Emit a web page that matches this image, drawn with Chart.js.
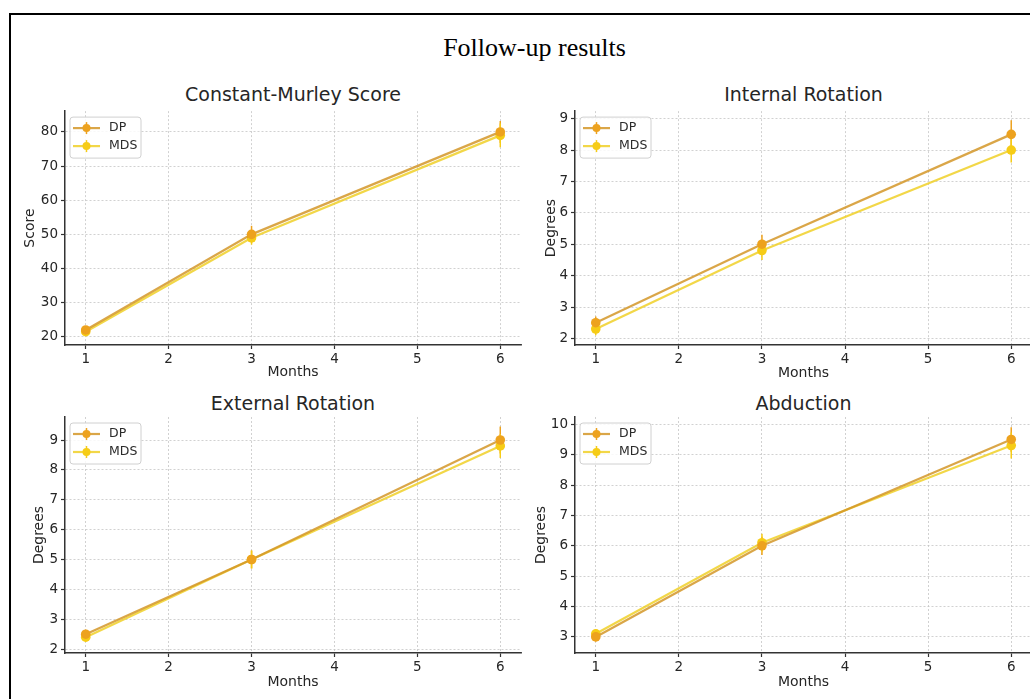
<!DOCTYPE html>
<html>
<head>
<meta charset="utf-8">
<script src="https://cdn.jsdelivr.net/npm/chart.js@4.4.1/dist/chart.umd.min.js"></script>
<style>
body { margin: 0; width: 1030px; height: 699px; overflow: hidden; background: #fff; position: relative; font-family: 'DejaVu Sans', sans-serif; }
.frame { position: absolute; left: 9px; top: 13px; width: 1100px; height: 800px; border-top: 2px solid #000; border-left: 2px solid #000; }
.main-title { position: absolute; left: 0; width: 1069px; top: 33px; text-align: center; font-family: 'Liberation Serif', 'Times New Roman', serif; font-size: 26px; line-height: 30px; color: #000; }
.sub-title { position: absolute; text-align: center; font-size: 19px; line-height: 22px; color: #262626; white-space: nowrap; }
canvas { position: absolute; }
</style>
</head>
<body>
<div class="frame"></div>
<div class="main-title">Follow-up results</div>

<div class="sub-title" style="left:65px;width:456px;top:83px;">Constant-Murley Score</div>
<div class="sub-title" style="left:575px;width:457px;top:83px;">Internal Rotation</div>
<div class="sub-title" style="left:65px;width:456px;top:392px;">External Rotation</div>
<div class="sub-title" style="left:575px;width:457px;top:392px;">Abduction</div>

<canvas id="cms" width="540" height="290" style="left:5px;top:100px;"></canvas>
<canvas id="ir" width="540" height="290" style="left:515px;top:100px;"></canvas>
<canvas id="er" width="540" height="298" style="left:5px;top:400px;"></canvas>
<canvas id="abd" width="540" height="298" style="left:515px;top:400px;"></canvas>

<script>
const months = [1, 3, 6];
const xTicks = [1, 2, 3, 4, 5, 6];
const seriesNames = ['DP', 'MDS'];

// Constant-Murley score
const cmsDP = [22, 50, 80];
const cmsMDS = [21.5, 49, 79];
const cmsDPErr = [1, 2.5, 3.2];
const cmsMDSErr = [1, 2, 3.5];
const cmsTicks = [20, 30, 40, 50, 60, 70, 80];

// internal rotation
const irDP = [2.5, 5.0, 8.5];
const irMDS = [2.3, 4.8, 8.0];
const irDPErr = [0.2, 0.3, 0.45];
const irMDSErr = [0.2, 0.3, 0.4];
const irTicks = [2, 3, 4, 5, 6, 7, 8, 9];

// external rotation
const erDP = [2.5, 5.0, 9.0];
const erMDS = [2.4, 5.0, 8.8];
const erDPErr = [0.15, 0.3, 0.45];
const erMDSErr = [0.15, 0.3, 0.4];
const erTicks = [2, 3, 4, 5, 6, 7, 8, 9];

// abduction
const abdDP = [3.0, 6.0, 9.5];
const abdMDS = [3.1, 6.1, 9.3];
const abdDPErr = [0.15, 0.3, 0.4];
const abdMDSErr = [0.15, 0.3, 0.43];
const abdTicks = [3, 4, 5, 6, 7, 8, 9, 10];

const dpLine = 'rgba(212, 150, 40, 0.85)';
const dpMark = '#EDA21E';
const mdsLine = 'rgba(240, 208, 40, 0.85)';
const mdsMark = '#F6CC16';

/* vertical error bars, drawn under the lines like matplotlib does */
const errorBars = {
    id: 'errorBars',
    beforeDatasetsDraw(chart) {
        const ctx = chart.ctx;
        const xs = chart.scales.x;
        const ys = chart.scales.y;
        chart.data.datasets.forEach(ds => {
            ctx.save();
            ctx.strokeStyle = ds.pointBackgroundColor;
            ctx.lineWidth = 1.5;
            ds.data.forEach((p, j) => {
                const x = xs.getPixelForValue(p.x);
                ctx.beginPath();
                ctx.moveTo(x, ys.getPixelForValue(p.y - ds.errors[j]));
                ctx.lineTo(x, ys.getPixelForValue(p.y + ds.errors[j]));
                ctx.stroke();
            });
            ctx.restore();
        });
    }
};

/* legend box inside the upper left corner of the axes */
const innerLegend = {
    id: 'innerLegend',
    afterDraw(chart) {
        const ctx = chart.ctx;
        const left = chart.chartArea.left + 5;
        const top = chart.chartArea.top + 6;
        ctx.save();
        ctx.beginPath();
        ctx.roundRect(left, top, 71, 41, 3);
        ctx.fillStyle = 'rgba(255,255,255,0.85)';
        ctx.fill();
        ctx.strokeStyle = '#d0d0d0';
        ctx.lineWidth = 1;
        ctx.stroke();
        chart.data.datasets.forEach((ds, i) => {
            const y = top + 11 + i * 18;
            ctx.strokeStyle = ds.borderColor;
            ctx.lineWidth = 2.2;
            ctx.beginPath();
            ctx.moveTo(left + 3, y);
            ctx.lineTo(left + 30, y);
            ctx.stroke();
            ctx.strokeStyle = ds.pointBackgroundColor;
            ctx.lineWidth = 1.5;
            ctx.beginPath();
            ctx.moveTo(left + 16.5, y - 6);
            ctx.lineTo(left + 16.5, y + 6);
            ctx.stroke();
            ctx.fillStyle = ds.pointBackgroundColor;
            ctx.beginPath();
            ctx.arc(left + 16.5, y, 4, 0, Math.PI * 2);
            ctx.fill();
            ctx.fillStyle = '#2a2a2a';
            ctx.font = '12.5px "DejaVu Sans"';
            ctx.textBaseline = 'middle';
            ctx.fillText(ds.label, left + 39, y);
        });
        ctx.restore();
    }
};

function makeSeries(label, values, errors, line, mark) {
    return {
        label: label,
        data: months.map((m, i) => ({ x: m, y: values[i] })),
        errors: errors,
        borderColor: line,
        borderWidth: 2.3,
        pointRadius: 4.8,
        pointHoverRadius: 4.8,
        pointBorderWidth: 0,
        pointBackgroundColor: mark,
        tension: 0,
        fill: false,
    };
}

function drawPanel(id, dp, dpErr, mds, mdsErr, yTicks, yMin, yMax, yLabel, lay) {
    new Chart(document.getElementById(id), {
        type: 'line',
        data: {
            datasets: [
                makeSeries(seriesNames[0], dp, dpErr, dpLine, dpMark),
                makeSeries(seriesNames[1], mds, mdsErr, mdsLine, mdsMark),
            ],
        },
        options: {
            responsive: false,
            animation: false,
            devicePixelRatio: 1,
            layout: { padding: { top: lay.top, right: lay.right, left: 0, bottom: 0 } },
            plugins: { legend: { display: false }, tooltip: { enabled: false } },
            scales: {
                x: {
                    type: 'linear',
                    min: 0.75,
                    max: 6.25,
                    afterBuildTicks: s => { s.ticks = xTicks.map(v => ({ value: v })); },
                    afterFit: s => { s.height = 45; },
                    grid: { color: '#c6c6c6', lineWidth: 0.8, tickLength: 4, tickColor: '#333', tickWidth: 1.2 },
                    border: { color: '#333', width: 1.5, dash: [2, 2] },
                    ticks: { color: '#262626', font: { family: 'DejaVu Sans', size: 13.5 }, padding: 2, maxRotation: 0 },
                    title: { display: true, text: 'Months', color: '#262626', font: { family: 'DejaVu Sans', size: 14 }, padding: { bottom: lay.xTitle, top: 0 } },
                },
                y: {
                    min: yMin,
                    max: yMax,
                    afterBuildTicks: s => { s.ticks = yTicks.map(v => ({ value: v })); },
                    afterFit: s => { s.width = 60; },
                    grid: { color: '#c6c6c6', lineWidth: 0.8, tickLength: 4, tickColor: '#333', tickWidth: 1.2 },
                    border: { color: '#333', width: 1.5, dash: [2, 2] },
                    ticks: { color: '#262626', font: { family: 'DejaVu Sans', size: 13.5 }, padding: 3 },
                    title: { display: true, text: yLabel, color: '#262626', font: { family: 'DejaVu Sans', size: 14 }, padding: { top: lay.yTitle, bottom: 0 } },
                },
            },
        },
        plugins: [errorBars, innerLegend],
    });
}

drawPanel('cms', cmsDP, cmsDPErr, cmsMDS, cmsMDSErr, cmsTicks, 17.6, 86.1, 'Score', { top: 8, right: 24, yTitle: 16.6, xTitle: 8.9 });
drawPanel('ir', irDP, irDPErr, irMDS, irMDSErr, irTicks, 1.79, 9.24, 'Degrees', { top: 8, right: 23, yTitle: 27.6, xTitle: 8.3 });
drawPanel('er', erDP, erDPErr, erMDS, erMDSErr, erTicks, 1.87, 9.77, 'Degrees', { top: 17, right: 24, yTitle: 26, xTitle: 6.9 });
drawPanel('abd', abdDP, abdDPErr, abdMDS, abdMDSErr, abdTicks, 2.47, 10.24, 'Degrees', { top: 17, right: 23, yTitle: 17.6, xTitle: 6.9 });
</script>
</body>
</html>
